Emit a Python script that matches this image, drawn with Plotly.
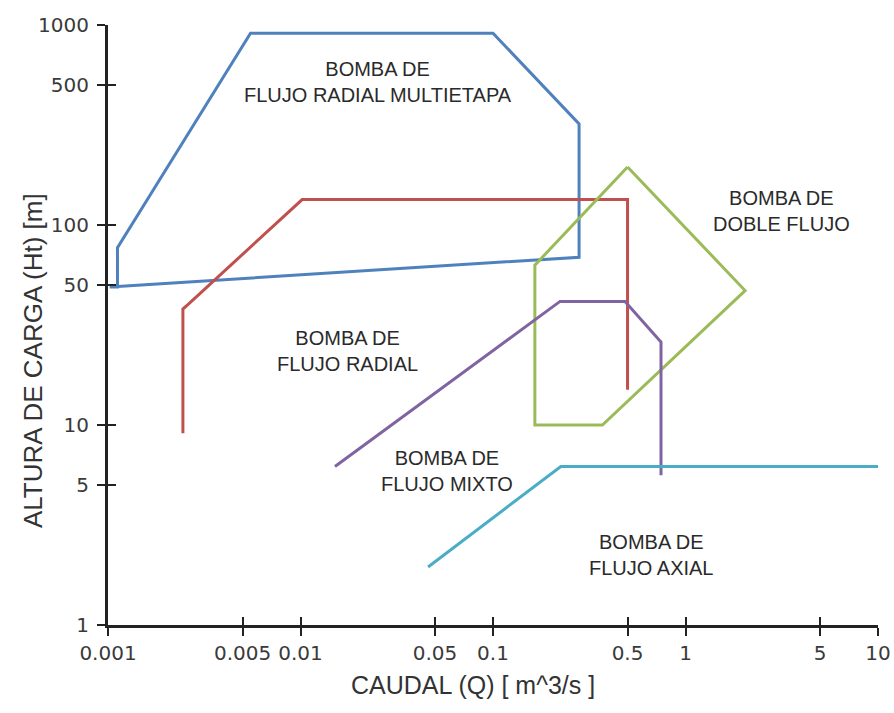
import plotly.graph_objects as go

# ---- data ----
multietapa_q = [0.00102, 0.00112, 0.00112, 0.0055, 0.1, 0.28, 0.28, 0.00102]
multietapa_h = [49, 49, 77, 910, 910, 320, 69, 49]

radial_q = [0.00245, 0.00245, 0.0026, 0.0102, 0.5, 0.5]
radial_h = [9.1, 38, 40, 134, 134, 15]

doble_q = [0.5, 2.04, 0.37, 0.165, 0.165, 0.5]
doble_h = [195, 47, 10, 10, 63, 195]

mixto_q = [0.0151, 0.223, 0.485, 0.746, 0.746]
mixto_h = [6.2, 41.5, 41.5, 26, 5.6]

axial_q = [0.046, 0.225, 10]
axial_h = [1.95, 6.2, 6.2]

x_ticks = [0.001, 0.005, 0.01, 0.05, 0.1, 0.5, 1, 5, 10]
x_tick_text = ["0.001", "0.005", "0.01", "0.05", "0.1", "0.5", "1", "5", "10"]
y_ticks = [1, 5, 10, 50, 100, 500, 1000]
y_tick_text = ["1", "5", "10", "50", "100", "500", "1000"]

labels = [
    ("BOMBA DE<br>FLUJO RADIAL MULTIETAPA", 378, 82),
    ("BOMBA DE<br>DOBLE FLUJO", 781, 211),
    ("BOMBA DE<br>FLUJO RADIAL", 347, 351),
    ("BOMBA DE<br>FLUJO MIXTO", 447, 471),
    ("BOMBA DE<br>FLUJO AXIAL", 651, 555),
]
x_title = "CAUDAL (Q) [ m^3/s ]"
y_title = "ALTURA DE CARGA (Ht) [m]"

# ---- layout constants ----
W, H = 894, 713
L, R, T, B = 108, 16, 25, 88
PW, PH = W - L - R, H - T - B

fig = go.Figure()
series = [
    (multietapa_q, multietapa_h, "#4F81BD", "x", "y"),
    (radial_q, radial_h, "#C0504D", "x", "y"),
    (doble_q, doble_h, "#9BBB59", "x", "y"),
    (mixto_q, mixto_h, "#8064A2", "x", "y"),
    (axial_q, axial_h, "#4BACC6", "x2", "y2"),
]
for q, h, c, xa, ya in series:
    fig.add_trace(go.Scatter(x=q, y=h, mode="lines", xaxis=xa, yaxis=ya,
                             line=dict(color=c, width=3), hoverinfo="skip",
                             showlegend=False))

tickfont = dict(family="DejaVu Sans", size=20, color="#3a3a3a")
common = dict(type="log", showgrid=False, zeroline=False, automargin=False)

fig.update_layout(
    width=W, height=H,
    margin=dict(l=L, r=R, t=T, b=B, pad=0, autoexpand=False),
    paper_bgcolor="white", plot_bgcolor="white",
    xaxis=dict(**common, range=[-3, 1], tickvals=x_ticks, ticktext=x_tick_text,
               ticks="outside", ticklen=8, tickwidth=2, tickcolor="#222",
               showline=True, linecolor="#222", linewidth=3,
               tickfont=tickfont),
    yaxis=dict(**common, range=[0, 3], tickvals=y_ticks, ticktext=y_tick_text,
               ticks="outside", ticklen=8, tickwidth=2, tickcolor="#222",
               showline=True, linecolor="#222", linewidth=3,
               tickfont=tickfont, ticklabelstandoff=4),
    xaxis2=dict(**common, range=[-3, 1], overlaying="x", side="bottom",
                tickvals=x_ticks, ticks="inside", ticklen=8, tickwidth=2,
                tickcolor="#222", showticklabels=False, showline=False),
    yaxis2=dict(**common, range=[0, 3], overlaying="y", side="left",
                tickvals=y_ticks, ticks="inside", ticklen=8, tickwidth=2,
                tickcolor="#222", showticklabels=False, showline=False),
)

def paper_xy(px, py):
    return (px - L) / PW, (H - B - py) / PH

for text, px, py in labels:
    x, y = paper_xy(px, py)
    fig.add_annotation(text=text, xref="paper", yref="paper", x=x, y=y,
                       xanchor="center", yanchor="middle",
                       showarrow=False, align="center",
                       font=dict(family="Liberation Sans", size=20, color="#2a2a2a"))

x, y = paper_xy(473, 685)
fig.add_annotation(text=x_title, xref="paper", yref="paper", x=x, y=y,
                   xanchor="center", yanchor="middle", showarrow=False,
                   font=dict(family="Liberation Sans", size=25, color="#333"))
x, y = paper_xy(33, 361)
fig.add_annotation(text=y_title, xref="paper", yref="paper", x=x, y=y,
                   xanchor="center", yanchor="middle", showarrow=False,
                   textangle=-90,
                   font=dict(family="Liberation Sans", size=26, color="#333"))

fig.write_html("out.html")
